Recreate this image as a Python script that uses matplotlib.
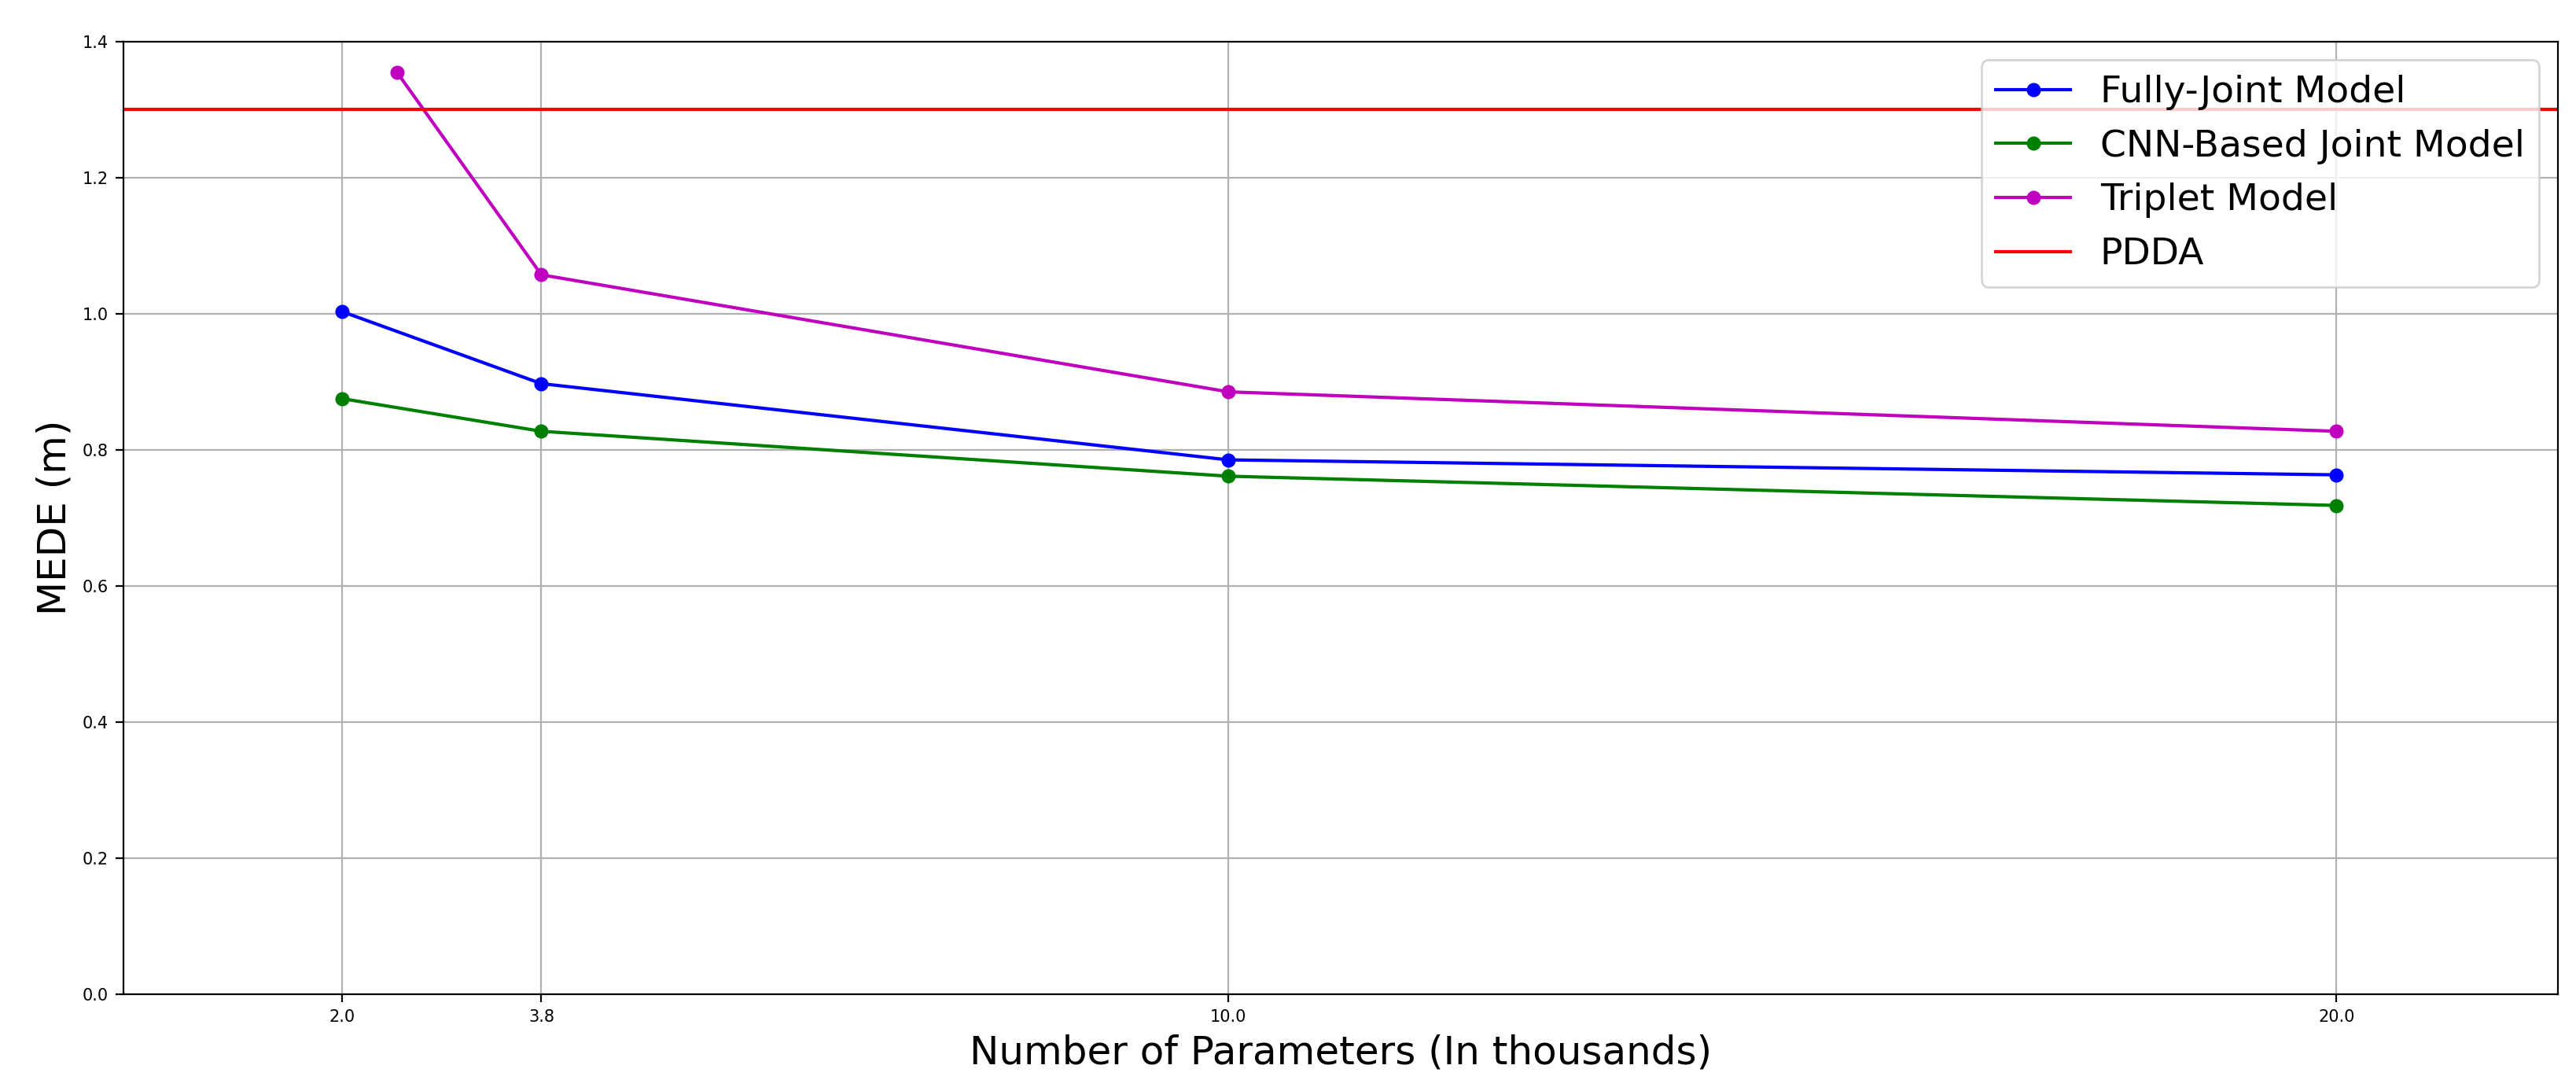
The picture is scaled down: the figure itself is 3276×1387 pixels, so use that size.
import matplotlib
matplotlib.use("Agg")
import matplotlib.pyplot as plt

x = [2.0, 3.8, 10.0, 20.0]
x_triplet = [2.5, 3.8, 10.0, 20.0]
fully = [1.003, 0.897, 0.785, 0.763]
cnn = [0.875, 0.827, 0.761, 0.718]
triplet = [1.354, 1.057, 0.885, 0.827]
pdda = 1.3
xticks = [2.0, 3.8, 10.0, 20.0]

fig = plt.figure(figsize=(16.38, 6.935), dpi=200)
ax = fig.add_axes([0.048, 0.089, 0.945, 0.873])
ax.plot(x, fully, 'o-', color='blue', label='Fully-Joint Model', ms=5.5)
ax.plot(x, cnn, 'o-', color='green', label='CNN-Based Joint Model', ms=5.5)
ax.plot(x_triplet, triplet, 'o-', color='m', label='Triplet Model', ms=5.5)
ax.axhline(pdda, color='red', label='PDDA')
ax.set_xlim(0.03, 22)
ax.set_ylim(0, 1.4)
ax.set_xticks(xticks)
ax.set_xticklabels([str(t) for t in xticks])
ax.tick_params(labelsize=7.5)
ax.grid(True)
ax.set_xlabel('Number of Parameters (In thousands)', fontsize=18)
ax.set_ylabel('MEDE (m)', fontsize=18)
ax.legend(loc='upper right', fontsize=17)
fig.savefig('out.png', dpi=200)
